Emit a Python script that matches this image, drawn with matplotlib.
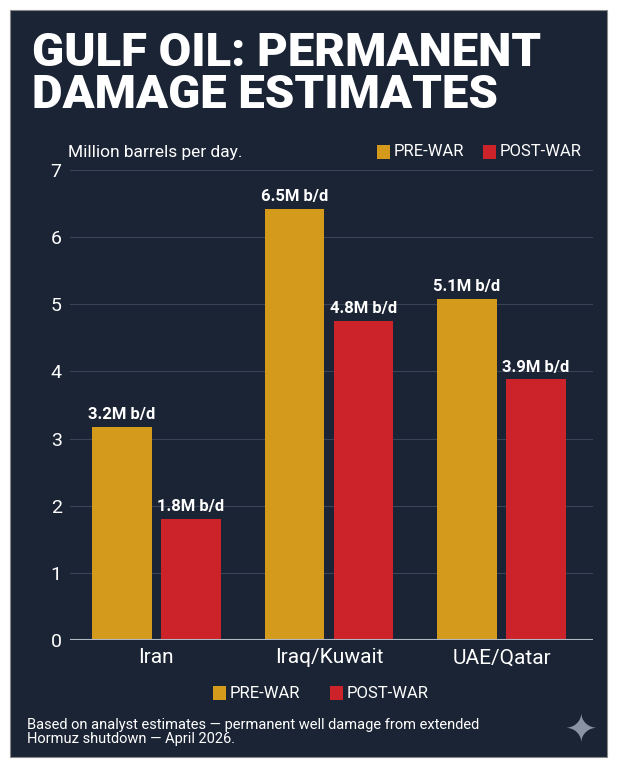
import matplotlib
matplotlib.use("Agg")
import matplotlib.pyplot as plt
from matplotlib.patches import Rectangle
import numpy as np

categories = ["Iran", "Iraq/Kuwait", "UAE/Qatar"]
pre_war = [3.17, 6.42, 5.08]
post_war = [1.80, 4.75, 3.88]
pre_labels = ["3.2M b/d", "6.5M b/d", "5.1M b/d"]
post_labels = ["1.8M b/d", "4.8M b/d", "3.9M b/d"]
yticks = [0, 1, 2, 3, 4, 5, 6, 7]

BG = "#1b2434"
GOLD = "#d49a1c"
RED = "#cc2229"
plt.rcParams['font.family'] = ['Roboto', 'DejaVu Sans']

W, H = 619, 766
fig = plt.figure(figsize=(W/100, H/100), dpi=100)
fig.patch.set_facecolor("white")
fig.patches.append(Rectangle((10/W, 1-757/H), 597/W, 747/H, transform=fig.transFigure,
                             facecolor=BG, edgecolor="#888888", lw=0.8, zorder=-5))

ax = fig.add_axes([70/W, 1-640/H, 523/W, 470/H])
ax.set_zorder(2)
ax.set_facecolor("none")
x = np.arange(len(categories))
w = 0.345
off = 0.2
b1 = ax.bar(x - off, pre_war, w, color=GOLD, zorder=3)
b2 = ax.bar(x + off, post_war, w, color=RED, zorder=3)
for rect, lab in zip(b1, pre_labels):
    ax.text(rect.get_x()+rect.get_width()/2, rect.get_height()+0.07, lab, ha="center", va="bottom",
            color="white", fontsize=12, fontweight="bold")
for rect, lab in zip(b2, post_labels):
    ax.text(rect.get_x()+rect.get_width()/2, rect.get_height()+0.07, lab, ha="center", va="bottom",
            color="white", fontsize=12, fontweight="bold")
ax.set_ylim(0, 7)
ax.set_xlim(-0.5, 2.53)
ax.set_yticks(yticks)
ax.set_xticks(x)
ax.set_xticklabels(categories)
ax.tick_params(axis="y", colors="white", labelsize=14, length=0, pad=6)
ax.tick_params(axis="x", colors="white", labelsize=15, length=0, pad=6)
ax.yaxis.grid(True, color="#3a4456", lw=0.8, zorder=0)
for s in ax.spines.values():
    s.set_visible(False)
ax.axhline(0, color="#b0b8c4", lw=1.5, zorder=4)

fig.text(32/W, 1-74/H, "GULF OIL: PERMANENT\nDAMAGE ESTIMATES", color="white", fontsize=34,
         fontweight="black", va="center", ha="left", linespacing=0.95)
fig.text(68/W, 1-152/H, "Million barrels per day.", color="white", fontsize=12.5, va="center")

def legend_at(xs, y):
    for (xx, col, lab) in xs:
        fig.patches.append(Rectangle((xx/W, 1-(y+7)/H), 13/W, 14/H, transform=fig.transFigure,
                                     facecolor=col, edgecolor="none"))
        fig.text((xx+17)/W, 1-y/H, lab, color="white", fontsize=12, va="center")

legend_at([(377, GOLD, "PRE-WAR"), (483, RED, "POST-WAR")], 152)
legend_at([(213, GOLD, "PRE-WAR"), (330, RED, "POST-WAR")], 693)

fig.text(27/W, 1-732/H, "Based on analyst estimates \u2014 permanent well damage from extended\nHormuz shutdown \u2014 April 2026.",
         color="white", fontsize=10.5, va="center", linespacing=1.05)
fig.text(581/W, 1-731/H, "\u2726", color="#8a93a3", fontsize=28, ha="center", va="center",
         family=["DejaVu Sans"])

fig.savefig("out.png", dpi=100, facecolor=fig.get_facecolor())
